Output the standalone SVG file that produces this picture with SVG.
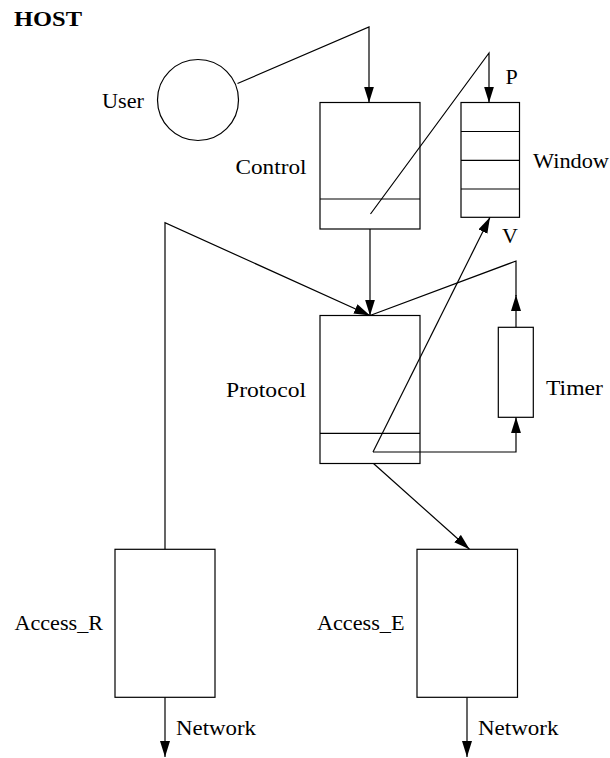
<svg xmlns="http://www.w3.org/2000/svg" width="610" height="758" viewBox="0 0 610 758" font-family="Liberation Serif, serif" font-size="22">
<style>
.b{fill:none;stroke:#000;stroke-width:1.2}
.l{fill:none;stroke:#000;stroke-width:1.2}
svg g text.t, text.t{font-family:'Liberation Serif',serif !important;font-size:22px !important;fill:#000}
</style>
<defs>
<marker id="a" markerUnits="userSpaceOnUse" markerWidth="17" markerHeight="11" refX="16" refY="5" orient="auto">
<path d="M0,0 L16,5 L0,10 z" fill="#000"/>
</marker>
</defs>
<rect width="610" height="758" fill="#fff"/>
<text x="14" y="26" font-size="21" font-weight="bold" textLength="68" lengthAdjust="spacingAndGlyphs">HOST</text>
<g id="connectors">
<path class="l" d="M237.5,83.5 L369,27 L369,102.5" marker-end="url(#a)"/>
<path class="l" d="M370.5,214 L489,53 L489,102.5" marker-end="url(#a)"/>
<path class="l" d="M370,229 L370,315.5" marker-end="url(#a)"/>
<path class="l" d="M165,549.3 L165,222.7 L370,315.5" marker-end="url(#a)"/>
<path class="l" d="M516,327.3 L516,295" marker-end="url(#a)"/>
<path class="l" d="M516,296 L516,261 L370,315.5"/>
<path class="l" d="M373,452 L516,452 L516,417.3" marker-end="url(#a)"/>
<path class="l" d="M373,452 L490,217.3" marker-end="url(#a)"/>
<path class="l" d="M373.5,463.5 L469.5,549.3" marker-end="url(#a)"/>
<path class="l" d="M165,697.3 L165,757" marker-end="url(#a)"/>
<path class="l" d="M467,697.3 L467,757" marker-end="url(#a)"/>
</g>
<g id="user">
<circle class="b" cx="198" cy="100" r="40.5"/>
<text class="t" style="font-family:'Liberation Serif',serif" x="102" y="108" textLength="42" lengthAdjust="spacingAndGlyphs">User</text>
</g>
<g id="control">
<rect class="b" x="320" y="102.5" width="100" height="126.5"/>
<line class="l" x1="320" y1="199" x2="420" y2="199"/>
<text class="t" style="font-family:'Liberation Serif',serif" x="235.5" y="174" textLength="71" lengthAdjust="spacingAndGlyphs">Control</text>
</g>
<g id="window">
<rect class="b" x="461" y="102.5" width="58.5" height="114.8"/>
<line class="l" x1="461" y1="131.5" x2="519.5" y2="131.5"/>
<line class="l" x1="461" y1="160.3" x2="519.5" y2="160.3"/>
<line class="l" x1="461" y1="189" x2="519.5" y2="189"/>
<text class="t" style="font-family:'Liberation Serif',serif" x="533" y="168" textLength="76" lengthAdjust="spacingAndGlyphs">Window</text>
<text class="t" style="font-family:'Liberation Serif',serif" x="505.5" y="84">P</text>
<text class="t" style="font-family:'Liberation Serif',serif" x="502" y="243">V</text>
</g>
<g id="protocol">
<rect class="b" x="320" y="315.5" width="100" height="148"/>
<line class="l" x1="320" y1="433.3" x2="420" y2="433.3"/>
<text class="t" style="font-family:'Liberation Serif',serif" x="226" y="397" textLength="80" lengthAdjust="spacingAndGlyphs">Protocol</text>
</g>
<g id="timer">
<rect class="b" x="498.3" y="327.3" width="35" height="90"/>
<text class="t" style="font-family:'Liberation Serif',serif" x="546" y="395" textLength="57" lengthAdjust="spacingAndGlyphs">Timer</text>
</g>
<g id="access_r">
<rect class="b" x="115" y="549.3" width="100" height="148"/>
<text class="t" style="font-family:'Liberation Serif',serif" x="14.5" y="630" textLength="88.5" lengthAdjust="spacingAndGlyphs">Access_R</text>
<text class="t" style="font-family:'Liberation Serif',serif" x="176" y="735" textLength="80" lengthAdjust="spacingAndGlyphs">Network</text>
</g>
<g id="access_e">
<rect class="b" x="417" y="549.3" width="100.5" height="148"/>
<text class="t" style="font-family:'Liberation Serif',serif" x="317" y="630" textLength="87.5" lengthAdjust="spacingAndGlyphs">Access_E</text>
<text class="t" style="font-family:'Liberation Serif',serif" x="478" y="735" textLength="80.5" lengthAdjust="spacingAndGlyphs">Network</text>
</g>
</svg>
